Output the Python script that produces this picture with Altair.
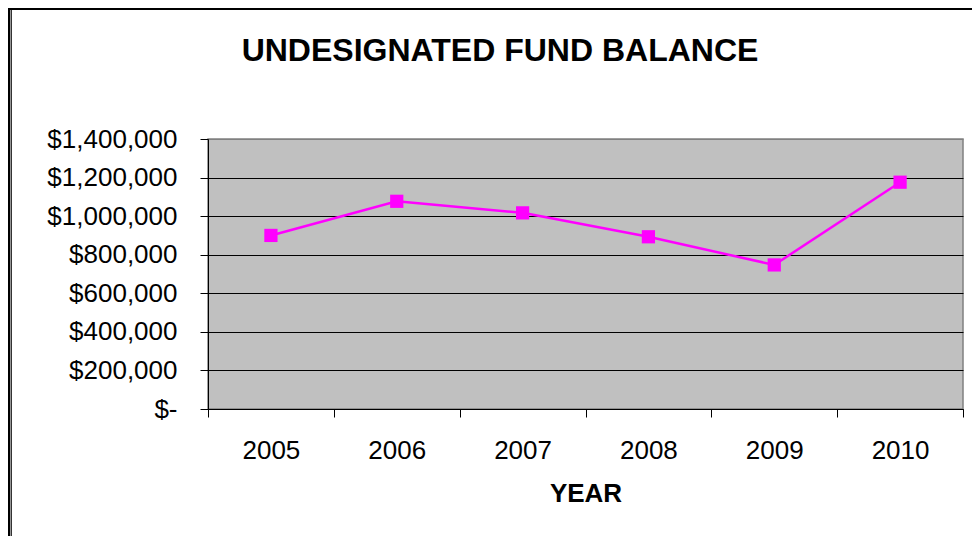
import altair as alt
import pandas as pd

years = ["2005", "2006", "2007", "2008", "2009", "2010"]
balances = [900000, 1077000, 1017000, 893000, 747000, 1176000]
y_ticks = [0, 200000, 400000, 600000, 800000, 1000000, 1200000, 1400000]
title_text = ["UNDESIGNATED FUND BALANCE"]

df = pd.DataFrame({"year": years, "balance": balances})
one = pd.DataFrame({"k": [0]})
tdf = pd.DataFrame({"t": title_text})

FONT = "Liberation Sans"

x_enc = alt.X(
    "year:O",
    sort=years,
    scale=alt.Scale(type="band", paddingInner=0, paddingOuter=0),
    axis=alt.Axis(
        title="YEAR",
        tickBand="extent",
        labelAngle=0,
        labelFont=FONT,
        labelFontSize=26,
        labelColor="black",
        labelPadding=20,
        tickSize=8,
        tickColor="black",
        domainColor="black",
        titleFont=FONT,
        titleFontSize=26,
        titleFontWeight="bold",
        titleColor="black",
        titlePadding=17,
        grid=False,
    ),
)
y_enc = alt.Y(
    "balance:Q",
    scale=alt.Scale(domain=[0, 1400000], nice=False),
    axis=alt.Axis(
        title=None,
        values=y_ticks,
        labelExpr="datum.value == 0 ? '$-\u00a0\u00a0' : format(datum.value, '$,.0f')",
        labelFont=FONT,
        labelFontSize=26,
        labelColor="black",
        labelPadding=23,
        tickSize=8,
        tickColor="black",
        domainColor="black",
        grid=True,
        gridColor=alt.condition("datum.value == 1400000", alt.value("#808080"), alt.value("black")),
        gridWidth=1,
        gridOpacity=1,
    ),
)

base = alt.Chart(df)
line = base.mark_line(color="#FF00FF", strokeWidth=2.5).encode(x=x_enc, y=y_enc)
pts = base.mark_square(color="#FF00FF", size=175, opacity=1).encode(x=x_enc, y=y_enc)

title = alt.Chart(tdf).mark_text(
    font=FONT, fontSize=32, fontWeight="bold", color="black", align="center", baseline="middle"
).encode(x=alt.value(292), y=alt.value(-88), text="t:N")

frame_top = alt.Chart(one).mark_rule(color="black", strokeWidth=3).encode(
    x=alt.value(-201), x2=alt.value(790), y=alt.value(-130.5), y2=alt.value(-130.5)
)
frame_left = alt.Chart(one).mark_rule(color="black", strokeWidth=2.5).encode(
    x=alt.value(-199.25), x2=alt.value(-199.25), y=alt.value(-133), y2=alt.value(420)
)
frame_left2 = alt.Chart(one).mark_rule(color="black", strokeWidth=1.2).encode(
    x=alt.value(-196.8), x2=alt.value(-196.8), y=alt.value(-129), y2=alt.value(420)
)

chart = alt.layer(frame_top, frame_left, frame_left2, title, line, pts).properties(
    width=755,
    height=270,
    autosize=alt.AutoSizeParams(type="none"),
    padding={"left": 200, "top": 131, "right": 9, "bottom": 127},
).configure(
    background="white",
    view=alt.ViewConfig(fill="#C0C0C0", stroke="#808080", strokeWidth=1.5),
)

chart.save("out.html", embed_options={"renderer": "svg", "actions": False})
